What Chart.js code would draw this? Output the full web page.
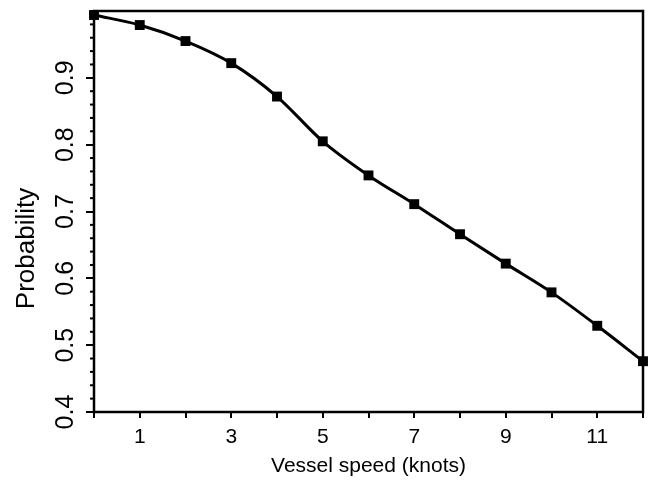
<!DOCTYPE html>
<html>
<head>
<meta charset="utf-8">
<script src="https://cdn.jsdelivr.net/npm/chart.js@4/dist/chart.umd.min.js"></script>
<style>
  html,body{margin:0;padding:0;background:#fff;}
  #wrap{width:651px;height:487px;}
</style>
</head>
<body>
<div id="wrap"><canvas id="c" width="651" height="487"></canvas></div>
<script>
// --- Data ---
const speeds = [0,1,2,3,4,5,6,7,8,9,10,11,12];
const probability = [0.994,0.979,0.955,0.922,0.872,0.805,0.754,0.711,0.666,0.622,0.579,0.529,0.476];
const xLabels = ['1','3','5','7','9','11'];
const yLabels = ['0.4','0.5','0.6','0.7','0.8','0.9'];
const xTitle = 'Vessel speed (knots)';
const yTitle = 'Probability';

const FONT = '"Liberation Sans", Arial, Helvetica, sans-serif';

function isMajorY(v){ return Math.abs(v*10 - Math.round(v*10)) < 1e-6; }

// frame, minor ticks and y title
const framePlugin = {
  id:'frame',
  afterDraw(chart){
    const {ctx, chartArea:a, scales} = chart;
    ctx.save();
    ctx.strokeStyle='#000';
    ctx.lineWidth=2.5;
    ctx.strokeRect(a.left, a.top, a.right-a.left, a.bottom-a.top);
    // minor y ticks
    const y = scales.y;
    ctx.lineWidth=2;
    y.ticks.forEach(t=>{
      if(isMajorY(t.value)) return;
      const p = y.getPixelForValue(t.value);
      ctx.beginPath(); ctx.moveTo(a.left-4,p); ctx.lineTo(a.left,p); ctx.stroke();
    });
    // y title
    ctx.fillStyle='#000';
    ctx.font='26px '+FONT;
    ctx.textAlign='center';
    ctx.textBaseline='middle';
    ctx.translate(27, (a.top+a.bottom)/2 + 37);
    ctx.rotate(-Math.PI/2);
    ctx.fillText(yTitle,0,0);
    ctx.restore();
  }
};

new Chart(document.getElementById('c').getContext('2d'), {
  type:'line',
  data:{
    datasets:[{
      data: speeds.map((s,i)=>({x:s, y:probability[i]})),
      borderColor:'#000',
      backgroundColor:'#000',
      borderWidth:3,
      cubicInterpolationMode:'monotone',
      pointStyle:'rect',
      pointRadius:7,
      pointBorderWidth:0,
      clip:false
    }]
  },
  options:{
    responsive:false,
    animation:false,
    layout:{padding:{top:11,right:8,left:0,bottom:8}},
    plugins:{legend:{display:false},tooltip:{enabled:false}},
    scales:{
      x:{
        type:'linear', min:0, max:12,
        afterBuildTicks(s){ s.ticks = speeds.map(v=>({value:v})); },
        afterFit(s){ s.height = 67; s.paddingLeft = 0; s.paddingRight = 0; },
        grid:{drawOnChartArea:false, tickLength:6, lineWidth:2, color:'#000'},
        border:{display:false},
        ticks:{
          color:'#000', padding:7, maxRotation:0, autoSkip:false,
          font:{family:FONT, size:21},
          callback:(v)=> xLabels.includes(String(v)) ? String(v) : ''
        },
        title:{display:true, text:xTitle, color:'#000', padding:{top:0,bottom:0},
          font:{family:FONT, size:21}}
      },
      y:{
        type:'linear', min:0.4, max:1.0,
        afterBuildTicks(s){
          const t=[];
          for(let i=0;i<30;i++) t.push({value: Math.round((0.4+i*0.02)*100)/100});
          s.ticks=t;
        },
        afterFit(s){ s.width = 94; s.paddingTop = 0; s.paddingBottom = 0; },
        grid:{drawOnChartArea:false, tickLength:8, lineWidth:2,
          color:(c)=> (c.tick && isMajorY(c.tick.value)) ? '#000' : 'rgba(0,0,0,0)'},
        border:{display:false},
        ticks:{
          color:'#000', padding:3, crossAlign:'center', autoSkip:false,
          minRotation:90, maxRotation:90,
          font:{family:FONT, size:25},
          callback:(v)=>{ const s=v.toFixed(1); return (isMajorY(v) && yLabels.includes(s)) ? s : ''; }
        }
      }
    }
  },
  plugins:[framePlugin]
});
</script>
</body>
</html>
